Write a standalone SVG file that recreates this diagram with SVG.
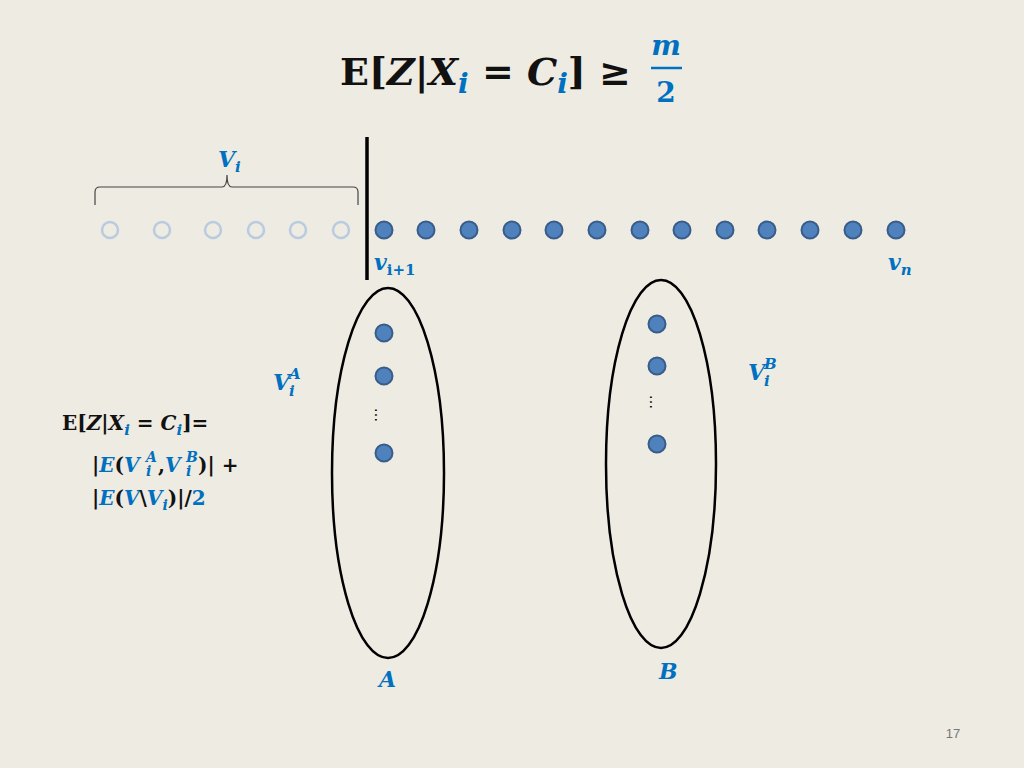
<svg xmlns="http://www.w3.org/2000/svg" width="1024" height="768" viewBox="0 0 1024 768">
<style>
.m{font-family:"DejaVu Serif","Liberation Serif",serif;font-weight:bold}
.b{fill:#0070C0;font-style:italic}
.k{fill:#111}
.e{fill:none;stroke:#b9cbe0;stroke-width:2.5}
.f{fill:#4f81bd;stroke:#385d8a;stroke-width:2}
.o{fill:none;stroke:#000;stroke-width:2.5}
</style>
<rect width="1024" height="768" fill="#EEEBE2"/>
<g id="title" class="m">
<text x="340" y="85" font-size="38" class="k">E[<tspan font-style="italic">Z</tspan>|<tspan font-style="italic">X</tspan><tspan class="b" font-size="28" dy="8">i</tspan><tspan dy="-8"> = </tspan><tspan font-style="italic">C</tspan><tspan class="b" font-size="28" dy="8">i</tspan><tspan dy="-8">] ≥</tspan></text>
<text x="666" y="55" font-size="28" class="b" text-anchor="middle">m</text>
<line x1="651" y1="68" x2="682" y2="68" stroke="#0070C0" stroke-width="2.5"/>
<text x="666" y="102" font-size="28" fill="#0070C0" text-anchor="middle">2</text>
</g>
<g id="brace">
<path d="M95,205 V192 Q95,187 100,187 H222 Q227,187 227,175 Q227,187 232,187 H353 Q358,187 358,192 V205" fill="none" stroke="#444" stroke-width="1.2"/>
<text x="218" y="167" font-size="22" class="m b">V<tspan font-size="15" dy="5">i</tspan></text>
</g>
<g id="divider"><line x1="367" y1="137" x2="367" y2="280" stroke="#000" stroke-width="3.5"/></g>
<g id="row">
<circle class="e" cx="110" cy="230" r="8"/><circle class="e" cx="162" cy="230" r="8"/><circle class="e" cx="213" cy="230" r="8"/><circle class="e" cx="256" cy="230" r="8"/><circle class="e" cx="298" cy="230" r="8"/><circle class="e" cx="341" cy="230" r="8"/>
<circle class="f" cx="384" cy="230" r="8.5"/><circle class="f" cx="426" cy="230" r="8.5"/><circle class="f" cx="469" cy="230" r="8.5"/><circle class="f" cx="512" cy="230" r="8.5"/><circle class="f" cx="554" cy="230" r="8.5"/><circle class="f" cx="597" cy="230" r="8.5"/><circle class="f" cx="640" cy="230" r="8.5"/><circle class="f" cx="682" cy="230" r="8.5"/><circle class="f" cx="725" cy="230" r="8.5"/><circle class="f" cx="767" cy="230" r="8.5"/><circle class="f" cx="810" cy="230" r="8.5"/><circle class="f" cx="853" cy="230" r="8.5"/><circle class="f" cx="896" cy="230" r="8.5"/>
<text x="374" y="270" font-size="22" class="m b">v<tspan font-size="15" dy="5" font-style="normal">i+1</tspan></text>
<text x="888" y="270" font-size="22" class="m b">v<tspan font-size="15" dy="5">n</tspan></text>
</g>
<g id="setA">
<ellipse class="o" cx="388" cy="473" rx="56" ry="185"/>
<circle class="f" cx="384" cy="333" r="8.5"/><circle class="f" cx="384" cy="376" r="8.5"/><circle class="f" cx="384" cy="453" r="8.5"/>
<text x="380" y="420" font-size="14" font-family="DejaVu Sans,sans-serif" transform="rotate(90 380 415)" text-anchor="middle">…</text>
<text x="273" y="390" font-size="22" class="m b">V</text><text x="289" y="379" font-size="15" class="m b">A</text><text x="289" y="396" font-size="15" class="m b">i</text>
<text x="379" y="687" font-size="22" class="m b">A</text>
</g>
<g id="setB">
<ellipse class="o" cx="661" cy="464" rx="55" ry="184"/>
<circle class="f" cx="657" cy="324" r="8.5"/><circle class="f" cx="657" cy="366" r="8.5"/><circle class="f" cx="657" cy="444" r="8.5"/>
<text x="655" y="407" font-size="14" font-family="DejaVu Sans,sans-serif" transform="rotate(90 655 402)" text-anchor="middle">…</text>
<text x="748" y="380" font-size="22" class="m b">V</text><text x="764" y="369" font-size="15" class="m b">B</text><text x="764" y="386" font-size="15" class="m b">i</text>
<text x="659" y="679" font-size="22" class="m b">B</text>
</g>
<g id="formula" class="m" font-size="20">
<text x="62" y="430" class="k">E[<tspan font-style="italic">Z</tspan>|<tspan font-style="italic">X</tspan><tspan class="b" font-size="15" dy="5">i</tspan><tspan dy="-5"> = </tspan><tspan font-style="italic">C</tspan><tspan class="b" font-size="15" dy="5">i</tspan><tspan dy="-5">]=</tspan></text>
<text x="92" y="472" class="k">|<tspan class="b">E</tspan>(<tspan class="b">V</tspan></text>
<text x="146" y="462" font-size="14" class="b">A</text><text x="146" y="476" font-size="14" class="b">i</text>
<text x="158" y="472" class="k">,<tspan class="b">V</tspan></text>
<text x="186" y="462" font-size="14" class="b">B</text><text x="186" y="476" font-size="14" class="b">i</text>
<text x="198" y="472" class="k">)| +</text>
<text x="92" y="505" class="k">|<tspan class="b">E</tspan>(<tspan class="b">V</tspan>\<tspan class="b">V</tspan><tspan class="b" font-size="14" dy="5">i</tspan><tspan dy="-5">)|/</tspan><tspan fill="#0070C0">2</tspan></text>
</g>
<text x="953" y="738" font-size="13" fill="#777" font-family="Liberation Sans,sans-serif" text-anchor="middle">17</text>
</svg>
